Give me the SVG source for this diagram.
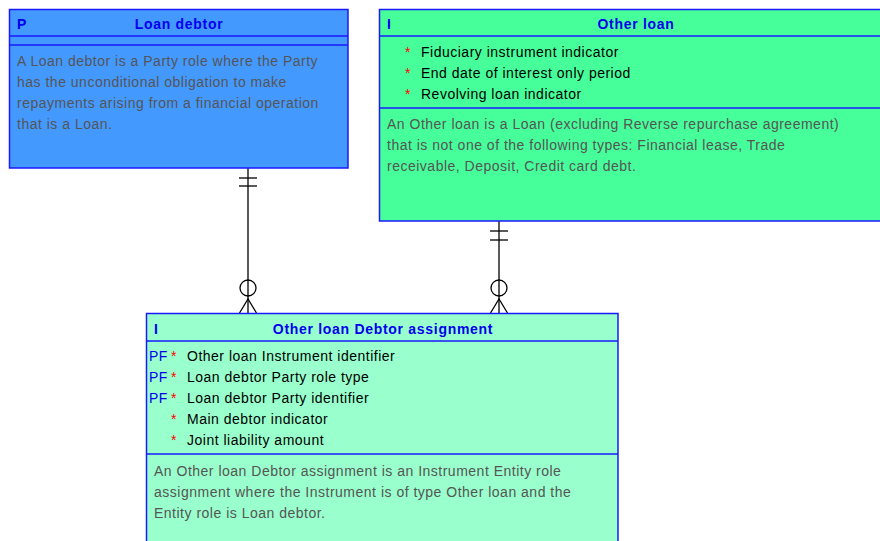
<svg xmlns="http://www.w3.org/2000/svg" width="880" height="541" viewBox="0 0 880 541">
<style>
.box{stroke:#1a1aff;stroke-width:1.5}
.sep{stroke:#1a1aff;stroke-width:1.5}
.hdr{font-family:"Liberation Sans",Arial,sans-serif;font-size:14px;font-weight:bold;fill:#0000ee;letter-spacing:0.7px}
.hc{text-anchor:middle}
.desc{font-family:"Liberation Sans",Arial,sans-serif;font-size:14px;fill:#555555;letter-spacing:0.5px}
.att{font-family:"Liberation Sans",Arial,sans-serif;font-size:14px;fill:#000000;letter-spacing:0.5px}
.req{font-family:"Liberation Sans",Arial,sans-serif;font-size:14px;fill:#ff0000}
.key{font-family:"Liberation Sans",Arial,sans-serif;font-size:14px;fill:#0000ee;letter-spacing:0.5px}
.ln{stroke:#000;stroke-width:1.3;fill:none}
</style>
<rect width="880" height="541" fill="#ffffff"/>
<g id="connectors">
  <line class="ln" x1="248" y1="168" x2="248" y2="313"/>
  <line class="ln" x1="239" y1="178" x2="257" y2="178"/>
  <line class="ln" x1="239" y1="186" x2="257" y2="186"/>
  <circle class="ln" cx="248" cy="288" r="8" fill="#fff"/>
  <path class="ln" d="M239.5 313 L248 299 L256.5 313"/>
  <line class="ln" x1="499" y1="221" x2="499" y2="313"/>
  <line class="ln" x1="490" y1="231" x2="508" y2="231"/>
  <line class="ln" x1="490" y1="240" x2="508" y2="240"/>
  <circle class="ln" cx="499" cy="288" r="8" fill="#fff"/>
  <path class="ln" d="M490.5 313 L499 299 L507.5 313"/>
</g>
<g id="loan-debtor">
  <rect class="box" x="9.5" y="9.5" width="338.5" height="158.5" fill="#4499ff"/>
  <line class="sep" x1="9.5" y1="36" x2="348" y2="36"/>
  <line class="sep" x1="9.5" y1="45" x2="348" y2="45"/>
  <text class="hdr" x="17" y="29">P</text>
  <text class="hdr hc" x="179" y="29">Loan debtor</text>
  <text class="desc" x="17" y="66">A Loan debtor is a Party role where the Party</text>
  <text class="desc" x="17" y="87">has the unconditional obligation to make</text>
  <text class="desc" x="17" y="108">repayments arising from a financial operation</text>
  <text class="desc" x="17" y="129">that is a Loan.</text>
</g>
<g id="other-loan">
  <rect class="box" x="379.5" y="9.5" width="514" height="211.5" fill="#46ff9a"/>
  <line class="sep" x1="379.5" y1="36" x2="893" y2="36"/>
  <line class="sep" x1="379.5" y1="108" x2="893" y2="108"/>
  <text class="hdr" x="387" y="29">I</text>
  <text class="hdr hc" x="636" y="29">Other loan</text>
  <text class="req" x="405" y="57">*</text><text class="att" x="421" y="57">Fiduciary instrument indicator</text>
  <text class="req" x="405" y="78">*</text><text class="att" x="421" y="78">End date of interest only period</text>
  <text class="req" x="405" y="99">*</text><text class="att" x="421" y="99">Revolving loan indicator</text>
  <text class="desc" x="387" y="129">An Other loan is a Loan (excluding Reverse repurchase agreement)</text>
  <text class="desc" x="387" y="150">that is not one of the following types: Financial lease, Trade</text>
  <text class="desc" x="387" y="171">receivable, Deposit, Credit card debt.</text>
</g>
<g id="other-loan-debtor-assignment">
  <rect class="box" x="146.5" y="313.5" width="471.5" height="240" fill="#99ffcc"/>
  <line class="sep" x1="146.5" y1="341" x2="618" y2="341"/>
  <line class="sep" x1="146.5" y1="454" x2="618" y2="454"/>
  <text class="hdr" x="154" y="334">I</text>
  <text class="hdr hc" x="383" y="334">Other loan Debtor assignment</text>
  <text class="key" x="149" y="361">PF</text><text class="req" x="171" y="361">*</text><text class="att" x="187" y="361">Other loan Instrument identifier</text>
  <text class="key" x="149" y="382">PF</text><text class="req" x="171" y="382">*</text><text class="att" x="187" y="382">Loan debtor Party role type</text>
  <text class="key" x="149" y="403">PF</text><text class="req" x="171" y="403">*</text><text class="att" x="187" y="403">Loan debtor Party identifier</text>
  <text class="req" x="171" y="424">*</text><text class="att" x="187" y="424">Main debtor indicator</text>
  <text class="req" x="171" y="445">*</text><text class="att" x="187" y="445">Joint liability amount</text>
  <text class="desc" x="154" y="476">An Other loan Debtor assignment is an Instrument Entity role</text>
  <text class="desc" x="154" y="497">assignment where the Instrument is of type Other loan and the</text>
  <text class="desc" x="154" y="518">Entity role is Loan debtor.</text>
</g>
</svg>
